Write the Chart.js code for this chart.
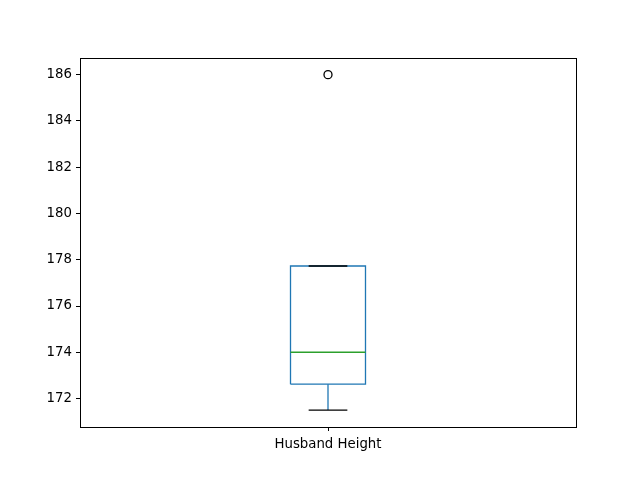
<!DOCTYPE html>
<html>
<head>
<meta charset="utf-8">
<script src="https://cdn.jsdelivr.net/npm/chart.js@4/dist/chart.umd.min.js"></script>
<style>
  html, body { margin: 0; padding: 0; background: #fff; }
  #wrap { width: 640px; height: 480px; }
</style>
</head>
<body>
<div id="wrap"><canvas id="c" width="640" height="480"></canvas></div>
<script>
// ---- data ----
const categories = ['Husband Height'];
const whiskerLow = [171.5];
const q1 = [172.62];
const median = [174.0];
const q3 = [177.73];
const whiskerHigh = [177.73];
const outliers = [[186]];
const yTicks = [172, 174, 176, 178, 180, 182, 184, 186];
const yMin = 170.77, yMax = 186.72;

// ---- styles ----
const BOX_HALF = 0.0756;
const CAP_HALF = 0.039;
const BLUE = '#1f77b4', GREEN = '#2ca02c', BLACK = '#000000';
const LW = 1.3;

const datasets = [];
categories.forEach((cat, i) => {
  const x = i + 1;
  datasets.push({
    label: 'caps', order: 0, showLine: true, pointRadius: 0, borderColor: BLACK, borderWidth: LW,
    data: [{x: x - CAP_HALF, y: whiskerLow[i]}, {x: x + CAP_HALF, y: whiskerLow[i]}, {x: NaN, y: NaN},
           {x: x - CAP_HALF, y: whiskerHigh[i]}, {x: x + CAP_HALF, y: whiskerHigh[i]}],
    spanGaps: false
  });
  datasets.push({
    label: 'median', order: 1, showLine: true, pointRadius: 0, borderColor: GREEN, borderWidth: LW,
    data: [{x: x - BOX_HALF, y: median[i]}, {x: x + BOX_HALF, y: median[i]}]
  });
  datasets.push({
    label: 'box', order: 2, showLine: true, pointRadius: 0, borderColor: BLUE, borderWidth: LW,
    data: [{x: x - BOX_HALF, y: q1[i]}, {x: x + BOX_HALF, y: q1[i]}, {x: x + BOX_HALF, y: q3[i]},
           {x: x - BOX_HALF, y: q3[i]}, {x: x - BOX_HALF, y: q1[i]}]
  });
  datasets.push({
    label: 'whiskers', order: 3, showLine: true, pointRadius: 0, borderColor: BLUE, borderWidth: LW,
    data: [{x: x, y: whiskerLow[i]}, {x: x, y: q1[i]}, {x: NaN, y: NaN},
           {x: x, y: q3[i]}, {x: x, y: whiskerHigh[i]}],
    spanGaps: false
  });
  datasets.push({
    label: 'outliers', order: 0, showLine: false, pointRadius: 4, pointBorderWidth: LW,
    pointBackgroundColor: 'rgba(0,0,0,0)', pointBorderColor: BLACK,
    data: outliers[i].map(v => ({x: x, y: v}))
  });
});

const frame = {
  id: 'frame',
  afterDraw(chart) {
    const {ctx, chartArea: a} = chart;
    ctx.save();
    ctx.strokeStyle = '#000';
    ctx.lineWidth = 1;
    ctx.strokeRect(Math.round(a.left) + 0.5, Math.round(a.top) + 0.5,
                   Math.round(a.right - a.left), Math.round(a.bottom - a.top));
    ctx.restore();
  }
};

const FONT = {family: 'DejaVu Sans', size: 13.3};

new Chart(document.getElementById('c'), {
  type: 'scatter',
  data: { datasets },
  plugins: [frame],
  options: {
    responsive: false,
    animation: false,
    events: [],
    layout: { padding: { left: 0, top: 58, right: 64, bottom: 0 } },
    plugins: { legend: { display: false }, tooltip: { enabled: false } },
    scales: {
      x: {
        type: 'linear', min: 0.5, max: categories.length + 0.5,
        afterBuildTicks: s => { s.ticks = categories.map((c, i) => ({value: i + 1})); },
        afterFit: s => { s.height = 53; },
        ticks: { callback: v => categories[Math.round(v) - 1], color: '#000', font: FONT, padding: 6, maxRotation: 0 },
        grid: { drawOnChartArea: false, drawTicks: true, tickLength: 4, color: '#000', lineWidth: 1 },
        border: { display: true, color: '#000', width: 1 }
      },
      y: {
        type: 'linear', min: yMin, max: yMax,
        afterBuildTicks: s => { s.ticks = yTicks.map(v => ({value: v})); },
        afterFit: s => { s.width = 80; },
        ticks: { callback: v => String(v), color: '#000', font: FONT, padding: 4 },
        grid: { drawOnChartArea: false, drawTicks: true, tickLength: 4, color: '#000', lineWidth: 1 },
        border: { display: true, color: '#000', width: 1 }
      }
    }
  }
});
</script>
</body>
</html>
